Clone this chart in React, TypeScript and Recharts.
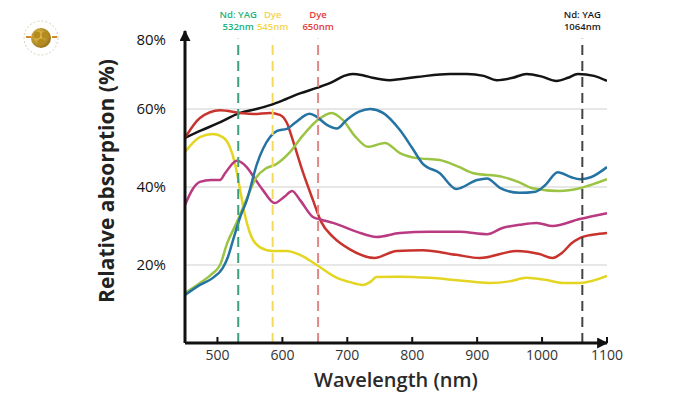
import { LineChart, Line, XAxis, YAxis, ReferenceLine } from "recharts";

// axis ticks
const xTicks = [500, 600, 700, 800, 900, 1000, 1100];
const yTicks = [20, 40, 60, 80];
const gridValues = [20, 40, 60];

// absorption curves, wavelength (nm) -> relative absorption (%)
const blackNm = [450, 475, 500, 535, 560, 581, 605, 627, 653, 678, 695, 708, 725, 739, 765, 807, 858, 884, 910, 930, 955, 976, 1000, 1022, 1040, 1055, 1080, 1100];
const blackPct = [52.6, 54.5, 56.3, 59, 60, 61, 62.5, 64, 65.4, 67, 68.5, 69, 68.6, 68, 67.4, 68.2, 69, 69, 68.5, 67.4, 68, 69, 68.3, 67.2, 68, 69, 68.5, 67.2];

const redNm = [450, 473, 504, 535, 555, 581, 596, 607, 616, 632, 647, 660, 678, 704, 742, 776, 816, 868, 904, 961, 996, 1016, 1032, 1045, 1058, 1080, 1100];
const redPct = [52.6, 57.7, 59.7, 59, 58.7, 59, 58.5, 56.4, 52, 43.6, 36.7, 31, 27.2, 24, 21.8, 23.6, 23.8, 22.6, 21.8, 23.6, 22.8, 21.8, 23.3, 25.5, 26.9, 27.8, 28.2];

const yellowNm = [450, 473, 493, 508, 519, 527, 535, 542, 550, 565, 585, 607, 627, 653, 684, 704, 724, 735, 745, 780, 827, 870, 919, 950, 976, 1005, 1032, 1058, 1100];
const yellowPct = [49, 52.8, 53.6, 52.8, 50.3, 46, 39.2, 33, 28.2, 24.6, 23.6, 23.6, 22.6, 20, 16.7, 15.6, 14.9, 15.6, 16.9, 17, 16.7, 16.1, 15.4, 15.8, 16.7, 16.2, 15.4, 15.4, 17.2];

const magentaNm = [450, 462, 473, 490, 504, 512, 530, 545, 558, 570, 588, 603, 615, 627, 647, 660, 678, 715, 745, 781, 827, 873, 915, 939, 965, 992, 1016, 1058, 1100];
const magentaPct = [35.4, 39.5, 41.3, 41.8, 41.8, 43.6, 46.7, 45.1, 42, 39.2, 35.9, 37.5, 39, 36.7, 32.3, 31.6, 30.8, 28.5, 27.2, 28.2, 28.5, 28.5, 27.9, 29.5, 30.3, 30.8, 30, 31.8, 33.3];

const blueNm = [450, 473, 493, 508, 516, 524, 535, 545, 561, 581, 592, 607, 619, 642, 653, 668, 684, 699, 718, 735, 755, 781, 800, 816, 842, 868, 900, 915, 935, 965, 990, 1005, 1024, 1045, 1058, 1075, 1100];
const bluePct = [12.3, 14.9, 16.7, 19.2, 22, 26.4, 32.3, 36.5, 46, 52.8, 54.4, 54.9, 56.4, 58.8, 58, 56, 55, 57.2, 59.3, 60, 59, 54.6, 50, 46, 43.6, 39.5, 41.8, 42.2, 39.8, 38.5, 38.8, 40.5, 43.8, 42.5, 42, 42.5, 45.1];

const greenNm = [450, 473, 493, 504, 515, 530, 545, 560, 575, 590, 612, 632, 653, 676, 693, 712, 732, 758, 781, 807, 842, 870, 893, 939, 965, 985, 1027, 1058, 1080, 1100];
const greenPct = [12.8, 15.4, 17.9, 20, 25.6, 31, 37, 42.5, 44.8, 45.8, 49, 53.3, 57, 59, 57.2, 53, 50.3, 51.3, 48.7, 47.4, 46.9, 45.3, 43.6, 42.6, 41.2, 39.7, 39, 39.7, 40.8, 42];

// laser wavelength markers
const laserNm = [532, 585, 655, 1062];
const laserName = ["Nd: YAG", "Dye", "Dye", "Nd: YAG"];
const laserWave = ["532nm", "545nm", "650nm", "1064nm"];
const laserLineColor = ["#3b9f7c", "#f4da5c", "#e08686", "#444444"];
const laserTextColor = ["#22b27a", "#f2d44a", "#e23b3b", "#1a1a1a"];
const laserTop = 78;

type Pt = { x: number; y: number };
const zip = (nm: number[], pct: number[]): Pt[] => nm.map((x, i) => ({ x, y: pct[i] }));

const series = [
  { key: "black", color: "#141414", data: zip(blackNm, blackPct) },
  { key: "red", color: "#c9332d", data: zip(redNm, redPct) },
  { key: "yellow", color: "#e3d521", data: zip(yellowNm, yellowPct) },
  { key: "magenta", color: "#b93a80", data: zip(magentaNm, magentaPct) },
  { key: "green", color: "#9cc444", data: zip(greenNm, greenPct) },
  { key: "blue", color: "#2473a3", data: zip(blueNm, bluePct) },
];

function YTick({ x, y, payload }: any) {
  // the top label sits a little below the arrow tip
  const shift = payload.value === 80 ? 9 : 0;
  return (
    <text x={x} y={y + shift} dy="0.35em" textAnchor="end" fontSize={15} fill="#111">
      {payload.value}%
    </text>
  );
}

const laserLabel = (i: number) => (props: any) => {
  const vb = props.viewBox || {};
  const cx = vb.x ?? 0;
  const top = vb.y ?? 0;
  return (
    <g fontSize={9.5} fontWeight={600} fill={laserTextColor[i]} textAnchor="middle">
      <text x={cx} y={top - 21}>{laserName[i]}</text>
      <text x={cx} y={top - 9}>{laserWave[i]}</text>
    </g>
  );
};

function Logo() {
  return (
    <svg width={60} height={60} style={{ position: "absolute", left: 11, top: 8 }}>
      <defs>
        <radialGradient id="goldFill" cx="40%" cy="40%" r="60%">
          <stop offset="0%" stopColor="#f1cf5a" />
          <stop offset="100%" stopColor="#9a7416" />
        </radialGradient>
      </defs>
      <circle cx={30} cy={30} r={17} fill="none" stroke="#d9cfb8" strokeWidth={1} strokeDasharray="2 2" />
      <circle cx={30} cy={30} r={10} fill="url(#goldFill)" />
      <circle cx={26} cy={27} r={3.5} fill="#b58a1f" />
      <circle cx={34} cy={27} r={3.5} fill="#b58a1f" />
      <circle cx={30} cy={34} r={3.5} fill="#b58a1f" />
      <rect x={15} y={28} width={5} height={2} fill="#d08a2a" />
      <rect x={41} y={28} width={5} height={2} fill="#d08a2a" />
    </svg>
  );
}

export default function App() {
  return (
    <div
      style={{
        position: "absolute",
        left: 0,
        top: 0,
        width: 700,
        height: 400,
        background: "#fff",
        fontFamily: "'Open Sans', sans-serif",
      }}
    >
      <Logo />
      <LineChart width={700} height={400} margin={{ top: 31, right: 93, bottom: 0, left: 105 }}>
        <defs>
          <marker
            id="axisArrow"
            viewBox="0 0 10 10"
            refX="9"
            refY="5"
            markerWidth="11"
            markerHeight="11"
            markerUnits="userSpaceOnUse"
            orient="auto-start-reverse"
          >
            <path d="M0,0 L10,5 L0,10 Z" fill="#111" />
          </marker>
        </defs>
        <XAxis
          type="number"
          dataKey="x"
          domain={[450, 1100]}
          ticks={xTicks}
          interval={0}
          allowDataOverflow
          height={57}
          axisLine={{ stroke: "#111", strokeWidth: 3, markerEnd: "url(#axisArrow)" }}
          tickLine={{ stroke: "#111", strokeWidth: 2 }}
          tickSize={-6}
          tickMargin={13}
          tick={{ fill: "#333", fontSize: 14 }}
          label={{
            value: "Wavelength (nm)",
            position: "insideBottom",
            offset: 13,
            fontSize: 20,
            fontWeight: 600,
            fill: "#2a2a2a",
          }}
        />
        <YAxis
          type="number"
          domain={[0, 80]}
          ticks={yTicks}
          interval={0}
          allowDataOverflow
          width={80}
          axisLine={{ stroke: "#111", strokeWidth: 3, markerStart: "url(#axisArrow)" }}
          tickLine={false}
          tickSize={0}
          tickMargin={19}
          tick={<YTick />}
          label={{
            value: "Relative absorption (%)",
            angle: -90,
            position: "center",
            dx: -38,
            dy: -6,
            fontSize: 21,
            fontWeight: 700,
            fill: "#222",
          }}
        />
        {gridValues.map((v) => (
          <ReferenceLine key={`g${v}`} y={v} stroke="#cfcfcf" strokeWidth={1} />
        ))}
        {series.map((s) => (
          <Line
            key={s.key}
            data={s.data}
            dataKey="y"
            type="monotone"
            stroke={s.color}
            strokeWidth={2.5}
            dot={false}
            activeDot={false}
            isAnimationActive={false}
          />
        ))}
        {laserNm.map((nm, i) => (
          <ReferenceLine
            key={`l${nm}`}
            segment={[
              { x: nm, y: 0 },
              { x: nm, y: laserTop },
            ]}
            stroke={laserLineColor[i]}
            strokeWidth={2}
            strokeDasharray="10 6"
            label={laserLabel(i)}
          />
        ))}
      </LineChart>
    </div>
  );
}
